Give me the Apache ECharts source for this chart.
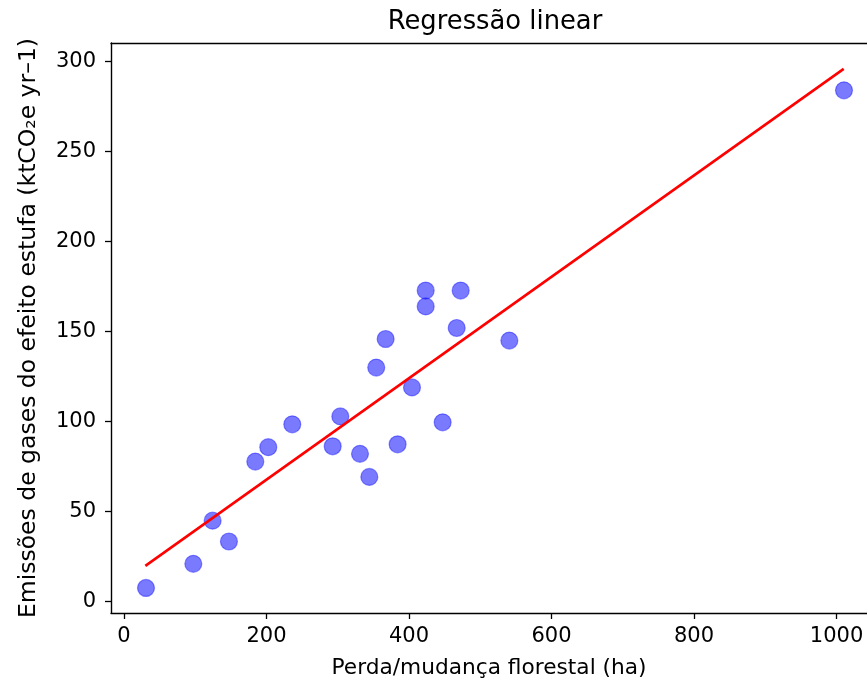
<!DOCTYPE html>
<html>
<head>
<meta charset="utf-8">
<script src="https://cdn.jsdelivr.net/npm/echarts@6/dist/echarts.min.js"></script>
<style>
  html, body { margin: 0; padding: 0; background: #fff; }
  #chart { width: 867px; height: 684px; }
</style>
</head>
<body>
<div id="chart"></div>
<script>
// pontos observados
var perda = [30.9, 97.3, 124.4, 147.3, 184.3, 202.5, 236.2, 292.9, 303.6, 331.2, 344.3,
  354, 367.2, 384, 404.2, 423.4, 423.4, 447.2, 466.9, 472.5, 540.8, 1010.4];
var emissoes = [7.6, 21, 45, 33.4, 77.8, 85.8, 98.5, 86.3, 102.9, 82.1, 69.3,
  130, 145.9, 87.4, 119, 172.8, 164, 99.6, 152, 172.8, 145, 284];
// reta de regressao (extremos)
var retaX = [30, 1010];
var retaY = [19.9, 295.9];
var xTicks = [0, 200, 400, 600, 800, 1000];
var yTicks = [0, 50, 100, 150, 200, 250, 300];

var pontos = perda.map(function (x, i) { return [x, emissoes[i]]; });
var reta = retaX.map(function (x, i) { return [x, retaY[i]]; });

var fonte = 'DejaVu Sans';
var chart = echarts.init(document.getElementById('chart'));

var eixo = { color: '#000', width: 1.4 };

var option = {
  animation: false,
  backgroundColor: '#fff',
  textStyle: { fontFamily: fonte },
  title: {
    text: 'Regressão linear',
    left: 495,
    top: 9,
    padding: 0,
    textAlign: 'center',
    textStyle: { fontFamily: fonte, fontSize: 25.8, fontWeight: 'normal', color: '#000' }
  },
  grid: {
    left: 111,
    top: 43,
    right: 0,
    bottom: 69
  },
  xAxis: [{
    type: 'value',
    min: -18.2,
    max: 1042.7,
    name: 'Perda/mudança florestal (ha)',
    nameLocation: 'middle',
    nameGap: 44,
    nameTextStyle: { fontFamily: fonte, fontSize: 21.7, color: '#000' },
    splitLine: { show: false },
    axisLine: { onZero: false, lineStyle: eixo },
    axisTick: { show: true, customValues: xTicks, length: 6, lineStyle: { color: '#000', width: 1.3 } },
    axisLabel: {
      customValues: xTicks, fontFamily: fonte, fontSize: 21, color: '#000', margin: 13,
      formatter: function (v) { return String(v); }
    }
  }, {
    // linha superior do quadro
    type: 'value',
    position: 'top',
    min: -18.2,
    max: 1042.7,
    splitLine: { show: false },
    axisLine: { onZero: false, lineStyle: eixo },
    axisTick: { show: false },
    axisLabel: { show: false }
  }],
  yAxis: {
    type: 'value',
    min: -6.3,
    max: 310.3,
    name: 'Emissões de gases do efeito estufa (ktCO₂e yr–1)',
    nameLocation: 'middle',
    nameGap: 70,
    nameRotate: 90,
    nameTextStyle: { fontFamily: fonte, fontSize: 23.5, color: '#000' },
    splitLine: { show: false },
    axisLine: { onZero: false, lineStyle: eixo },
    axisTick: { show: true, customValues: yTicks, length: 6, lineStyle: { color: '#000', width: 1.3 } },
    axisLabel: { customValues: yTicks, fontFamily: fonte, fontSize: 21, color: '#000', margin: 15 }
  },
  series: [
    {
      name: 'dados',
      type: 'scatter',
      data: pontos,
      symbol: 'circle',
      symbolSize: 17,
      itemStyle: {
        color: 'rgba(0,0,255,0.65)',
        borderColor: 'rgba(0,0,255,0.5)',
        borderWidth: 1.2
      },
      z: 2
    },
    {
      name: 'regressão',
      type: 'line',
      data: reta,
      showSymbol: false,
      symbol: 'none',
      lineStyle: { color: '#ff0000', width: 2.6 },
      z: 3
    }
  ]
};
chart.setOption(option);
</script>
</body>
</html>
